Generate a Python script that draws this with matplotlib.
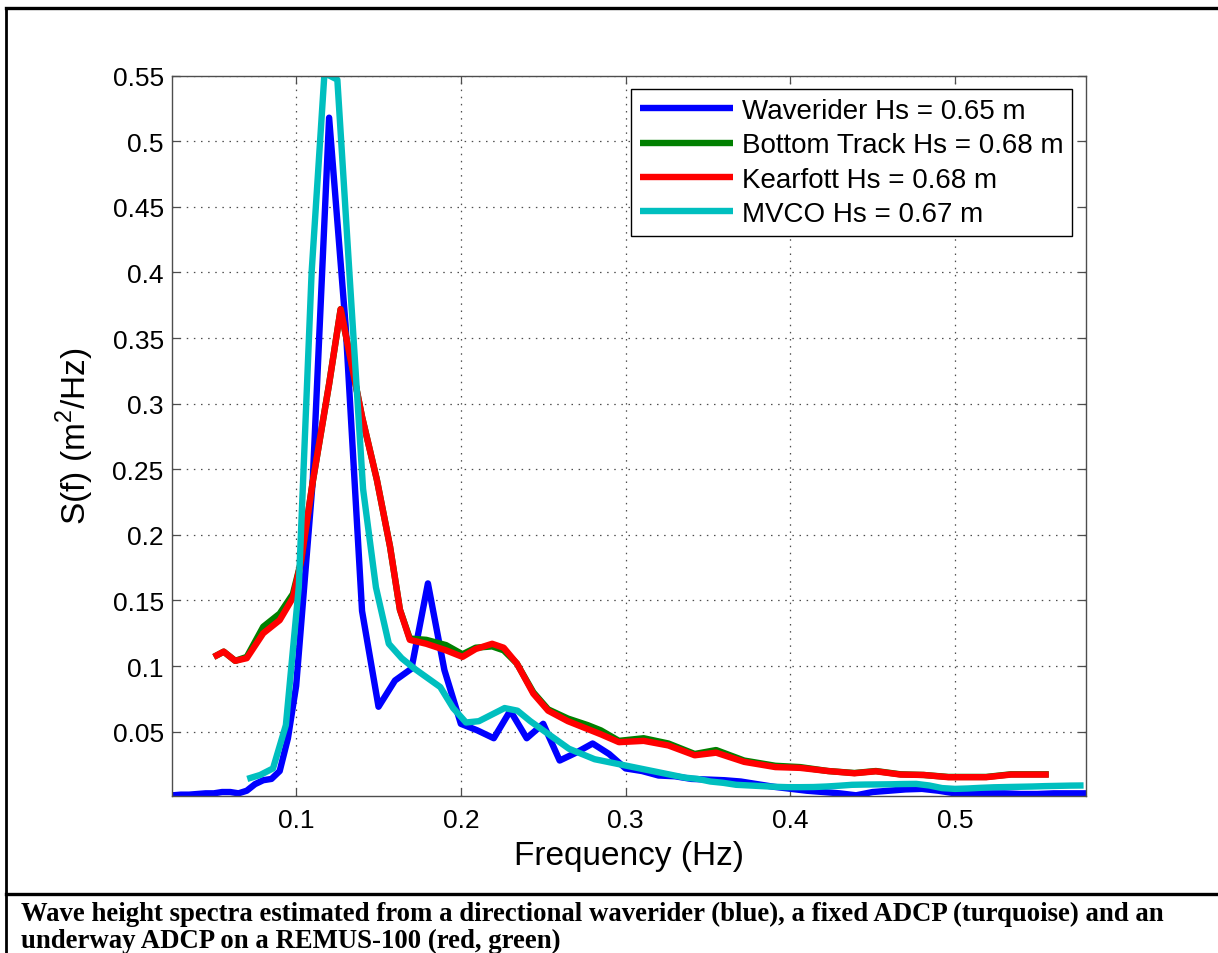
import numpy as np
import matplotlib
matplotlib.use("Agg")
import matplotlib.pyplot as plt
from matplotlib.lines import Line2D

# Waverider spectrum: 0.005 Hz bins below 0.1 Hz, 0.01 Hz bins above
wr_f = np.concatenate([np.arange(0.025, 0.1001, 0.005), np.arange(0.11, 0.5801, 0.01)])
wr_s = [0.0015, 0.002, 0.002, 0.0025, 0.003, 0.003, 0.004, 0.004, 0.003, 0.005,
        0.010, 0.013, 0.014, 0.020, 0.045, 0.085,
        0.240, 0.518, 0.360, 0.142, 0.069, 0.089, 0.098, 0.163, 0.097, 0.056,
        0.051, 0.045, 0.066, 0.045, 0.056, 0.028, 0.034, 0.041, 0.033, 0.022,
        0.020, 0.0166, 0.016, 0.014, 0.0135, 0.013, 0.012, 0.010, 0.008, 0.0065,
        0.005, 0.004, 0.003, 0.0015, 0.004, 0.005, 0.006, 0.0064, 0.005, 0.003,
        0.003, 0.003, 0.003, 0.0025, 0.0025, 0.003, 0.003, 0.003]

# REMUS-100 ADCP, bottom track and Kearfott navigation
rm_f = [0.050, 0.056, 0.063, 0.070, 0.080, 0.090, 0.098, 0.103, 0.110, 0.120,
        0.127, 0.140, 0.149, 0.157, 0.163, 0.169, 0.179, 0.191, 0.201, 0.209,
        0.219, 0.226, 0.234, 0.244, 0.253, 0.265, 0.277, 0.285, 0.296, 0.311,
        0.326, 0.342, 0.355, 0.372, 0.391, 0.406, 0.423, 0.439, 0.452, 0.467,
        0.481, 0.496, 0.519, 0.534, 0.557]
bt_s = [0.107, 0.111, 0.104, 0.107, 0.130, 0.140, 0.155, 0.180, 0.240, 0.315,
        0.372, 0.290, 0.242, 0.191, 0.143, 0.121, 0.120, 0.116, 0.109, 0.114,
        0.115, 0.112, 0.102, 0.080, 0.067, 0.060, 0.055, 0.051, 0.043, 0.045,
        0.041, 0.033, 0.036, 0.028, 0.024, 0.023, 0.020, 0.0185, 0.020, 0.0175,
        0.017, 0.0155, 0.0155, 0.0175, 0.0175]
kf_s = [0.107, 0.111, 0.104, 0.106, 0.125, 0.135, 0.152, 0.180, 0.240, 0.315,
        0.372, 0.290, 0.242, 0.191, 0.143, 0.120, 0.117, 0.112, 0.107, 0.113,
        0.117, 0.114, 0.102, 0.079, 0.066, 0.058, 0.052, 0.048, 0.042, 0.043,
        0.0395, 0.032, 0.034, 0.027, 0.023, 0.0224, 0.020, 0.0183, 0.0198, 0.0173,
        0.017, 0.0153, 0.0153, 0.0173, 0.0173]

# MVCO fixed ADCP, 1/128 Hz resolution
mv_f = np.arange(9, 75) / 128.0
mv_s = [0.014, 0.017, 0.022, 0.055, 0.160, 0.400, 0.552, 0.547, 0.390, 0.235,
        0.160, 0.117, 0.106, 0.098, 0.091, 0.084, 0.068, 0.057, 0.058, 0.063,
        0.068, 0.066, 0.058, 0.051, 0.044, 0.037, 0.033, 0.029, 0.027, 0.025,
        0.023, 0.021, 0.019, 0.017, 0.015, 0.014, 0.012, 0.011, 0.0095, 0.009,
        0.0085, 0.008, 0.0077, 0.0077, 0.0078, 0.0082, 0.0088, 0.0095, 0.0097, 0.0098,
        0.0099, 0.0101, 0.0102, 0.009, 0.007, 0.0064, 0.0067, 0.0072, 0.0076, 0.0078,
        0.008, 0.0082, 0.0085, 0.0087, 0.0089, 0.009]

labels = ["Waverider Hs = 0.65 m", "Bottom Track Hs = 0.68 m",
          "Kearfott Hs = 0.68 m", "MVCO Hs = 0.67 m"]
xticks = [0.1, 0.2, 0.3, 0.4, 0.5]
yticks = [0.05, 0.1, 0.15, 0.2, 0.25, 0.3, 0.35, 0.4, 0.45, 0.5, 0.55]

plt.rcParams['font.family'] = ['Liberation Sans', 'DejaVu Sans']
plt.rcParams['mathtext.fontset'] = 'custom'
plt.rcParams['mathtext.rm'] = 'Liberation Sans'

fig = plt.figure(figsize=(12.18, 9.54), dpi=100)
W, H = 1218.0, 954.0
ax = fig.add_axes([172 / W, 1 - 796.7 / H, 914 / W, 720 / H])

lw = 4.6
kw = dict(linewidth=lw, solid_joinstyle='round', solid_capstyle='butt')
ax.plot(wr_f, wr_s, color=(0, 0, 1), label=labels[0], **kw)
ax.plot(rm_f, bt_s, color=(0, 0.5, 0), label=labels[1], **kw)
ax.plot(rm_f, kf_s, color=(1, 0, 0), label=labels[2], **kw)
ax.plot(mv_f, mv_s, color=(0, 0.75, 0.75), label=labels[3], **kw)

ax.set_xlim(0.0246, 0.5796)
ax.set_ylim(0.0012, 0.55)
ax.set_xticks(xticks)
ax.set_xticklabels([("%g" % t) for t in xticks])
ax.set_yticks(yticks)
ax.set_yticklabels([("%g" % t) for t in yticks])
ax.tick_params(direction='in', length=6, width=0.9, color='0.3',
               top=True, right=True, labelsize=19)
ax.tick_params(axis='x', pad=9)
ax.tick_params(axis='y', pad=6)
for s in ax.spines.values():
    s.set_color('0.3')
    s.set_linewidth(1.0)
ax.grid(True, color='0.3', linestyle=(0, (1.2, 4.5)), linewidth=0.9)

ax.set_xlabel("Frequency (Hz)", fontsize=24)
ax.xaxis.set_label_coords(0.5, -0.061)
ax.set_ylabel(r"S(f) (m$^2$/Hz)", fontsize=24)
ax.yaxis.set_label_coords(-0.083, 0.5)

leg = ax.legend(loc='upper right', bbox_to_anchor=(0.985, 0.9815),
                borderaxespad=0, fontsize=20, handlelength=3.35,
                handletextpad=0.32, labelspacing=0.3, borderpad=0.32,
                fancybox=False, framealpha=1, edgecolor='k')
leg.get_frame().set_linewidth(1.0)

# page frame round the figure and caption
fig.add_artist(Line2D([6 / W, 1], [1 - 9 / H, 1 - 9 / H], color='k', linewidth=2.4,
                      transform=fig.transFigure))
fig.add_artist(Line2D([6 / W, 6 / W], [0, 1 - 9 / H], color='k', linewidth=2.0,
                      transform=fig.transFigure))
fig.add_artist(Line2D([6 / W, 1], [1 - 895 / H, 1 - 895 / H], color='k', linewidth=2.4,
                      transform=fig.transFigure))

cap = dict(fontsize=19.3, fontweight='bold', family='Liberation Serif', va='baseline')
fig.text(21 / W, 1 - 921.5 / H,
         "Wave height spectra estimated from a directional waverider (blue), "
         "a fixed ADCP (turquoise) and an", **cap)
fig.text(21 / W, 1 - 948 / H, "underway ADCP on a REMUS-100 (red, green)", **cap)

fig.savefig("out.png", dpi=100)
